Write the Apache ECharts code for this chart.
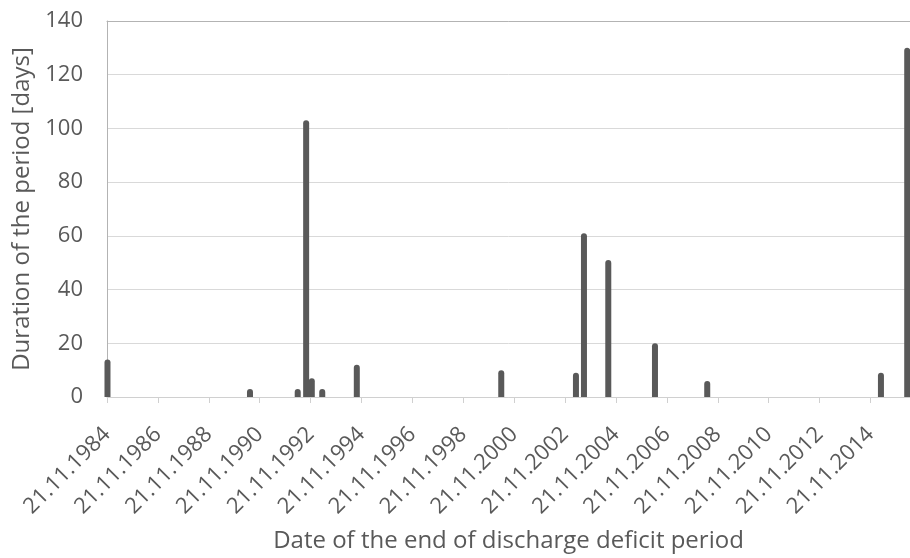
<!DOCTYPE html>
<html>
<head>
<meta charset="utf-8">
<script src="https://cdn.jsdelivr.net/npm/echarts@6/dist/echarts.min.js"></script>
<style>html,body{margin:0;padding:0;background:#fff}#c{width:910px;height:558px}</style>
</head>
<body>
<div id="c"></div>
<script>
// Dates of end of discharge deficit period
var endDates = ['1984-11-28','1990-07-05','1992-05-20','1992-09-18','1992-12-08','1993-05-07','1994-09-15','2000-05-19','2003-04-26','2003-08-19','2004-08-02','2006-06-03','2008-06-22','2015-04-20','2016-05-01'];
// Duration of the period [days]
var durations = [14, 3, 3, 103, 7, 3, 12, 10, 9, 61, 51, 20, 6, 9, 130];
// Tick label years (21.11.YYYY)
var tickYears = [1984,1986,1988,1990,1992,1994,1996,1998,2000,2002,2004,2006,2008,2010,2012,2014];
var yTicks = [0,20,40,60,80,100,120,140];

function ts(s){var p=s.split('-');return Date.UTC(+p[0],+p[1]-1,+p[2]);}
var DAY = 86400000;
var xMin = Date.UTC(1984,10,21);
var xMax = xMin + 11524*DAY;
var tickVals = tickYears.map(function(y){return Date.UTC(y,10,21);});
var seriesData = endDates.map(function(d,i){return [ts(d), durations[i]];});

var FONT = '"Open Sans", sans-serif';
var chart = echarts.init(document.getElementById('c'), null, {renderer:'canvas'});
chart.setOption({
  animation:false,
  backgroundColor:'#ffffff',
  grid:{left:107, top:21, right:-1, bottom:159, containLabel:false},
  xAxis:[{
    type:'value', min:xMin, max:xMax,
    name:'Date of the end of discharge deficit period',
    nameLocation:'middle', nameGap:132,
    nameTextStyle:{fontFamily:FONT, fontSize:24, color:'#595959'},
    axisLine:{show:true, lineStyle:{color:'#d0d0d0', width:1}},
    axisTick:{show:true, length:6, lineStyle:{color:'#d0d0d0'}, customValues:tickVals},
    axisLabel:{rotate:45, margin:34, fontFamily:FONT, fontSize:22, color:'#595959',
      verticalAlign:'middle',
      customValues:tickVals,
      formatter:function(v){var d=new Date(v);return '21.11.'+d.getUTCFullYear();}},
    splitLine:{show:false}
  },{
    type:'value', position:'top', min:xMin, max:xMax,
    axisLine:{show:true, onZero:false, lineStyle:{color:'#b3b3b3', width:1}},
    axisTick:{show:false}, axisLabel:{show:false}, splitLine:{show:false}
  }],
  yAxis:{
    type:'value', min:0, max:140, interval:20,
    name:'Duration of the period [days]',
    nameLocation:'middle', nameGap:72,
    nameTextStyle:{fontFamily:FONT, fontSize:24, color:'#595959'},
    axisLine:{show:true, lineStyle:{color:'#b3b3b3', width:1}},
    axisTick:{show:false},
    axisLabel:{margin:24, fontFamily:FONT, fontSize:22, color:'#595959',
      formatter:function(v){return yTicks.indexOf(v)>=0?String(v):'';}},
    splitLine:{show:true, lineStyle:{color:'#d9d9d9', width:1}}
  },
  series:[{
    type:'bar', xAxisIndex:0, data:seriesData, barWidth:6,
    itemStyle:{color:'#595959', borderRadius:[3,3,0,0]},
    clip:true
  }]
});
</script>
</body>
</html>
